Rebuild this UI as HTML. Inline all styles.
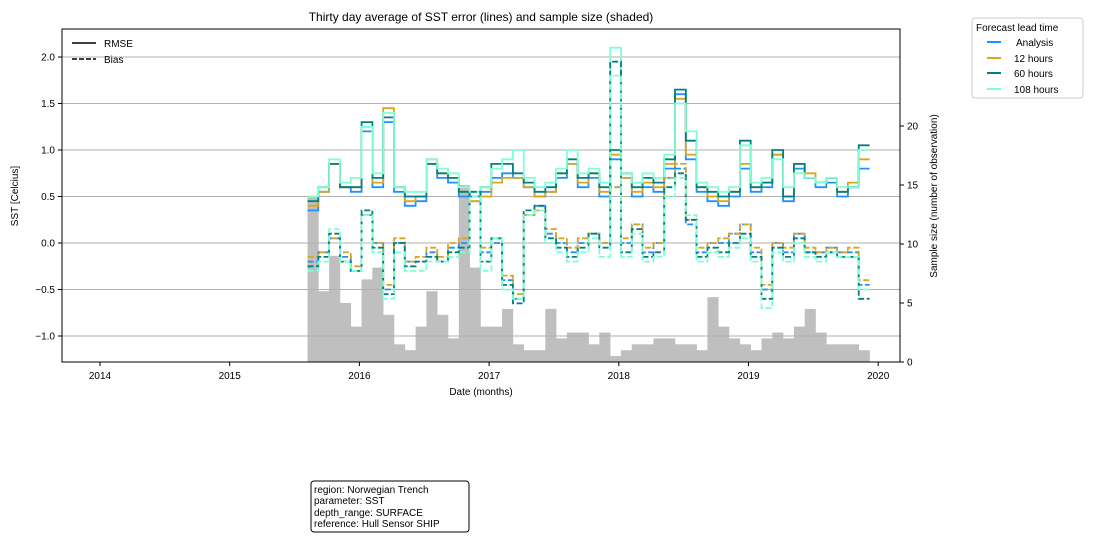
<!DOCTYPE html>
<html><head><meta charset="utf-8">
<style>
body{margin:0;background:#fff;font-family:"Liberation Sans",sans-serif;}
svg text{font-family:"Liberation Sans",sans-serif;fill:#000;}
</style></head>
<body>
<svg id="chart" width="1094" height="540" viewBox="0 0 1094 540" xmlns="http://www.w3.org/2000/svg">
<text x="481" y="21" font-size="12" text-anchor="middle">Thirty day average of SST error (lines) and sample size (shaded)</text>
<g id="bars"></g>
<g id="grid"></g>
<g id="lines"></g>
<rect x="62" y="29" width="838" height="333" fill="none" stroke="#000" stroke-width="1"/>
<g id="xaxis"></g>
<g id="yaxis"></g>
<g id="y2axis"></g>
<text x="481" y="395" font-size="10" text-anchor="middle">Date (months)</text>
<text transform="translate(18,196) rotate(-90)" font-size="10" text-anchor="middle">SST [Celcius]</text>
<text transform="translate(937,196) rotate(-90)" font-size="10" text-anchor="middle">Sample size (number of observation)</text>
<g>
<line x1="72" y1="43" x2="96" y2="43" stroke="#000" stroke-width="1.5"/>
<text x="104" y="47" font-size="10">RMSE</text>
<line x1="72" y1="59" x2="96" y2="59" stroke="#000" stroke-width="1.5" stroke-dasharray="5,2"/>
<text x="104" y="63" font-size="10">Bias</text>
</g>
<g>
<rect x="972" y="18" width="111" height="80" rx="3" fill="#fff" stroke="#ccc"/>
<text x="976" y="31" font-size="10">Forecast lead time</text>
<line x1="987" y1="42" x2="1001" y2="42" stroke="#1e90ff" stroke-width="2"/><text x="1016" y="46" font-size="10">Analysis</text>
<line x1="987" y1="58" x2="1001" y2="58" stroke="#daa520" stroke-width="2"/><text x="1014" y="62" font-size="10">12 hours</text>
<line x1="987" y1="73" x2="1001" y2="73" stroke="#008080" stroke-width="2"/><text x="1014" y="77" font-size="10">60 hours</text>
<line x1="987" y1="89" x2="1001" y2="89" stroke="#7fffd4" stroke-width="2"/><text x="1014" y="93" font-size="10">108 hours</text>
</g>
<g>
<rect x="311" y="481" width="158" height="51" rx="3" fill="#fff" stroke="#000"/>
<text x="314" y="493" font-size="10">region: Norwegian Trench</text>
<text x="314" y="504" font-size="10">parameter: SST</text>
<text x="314" y="516" font-size="10">depth_range: SURFACE</text>
<text x="314" y="527" font-size="10">reference: Hull Sensor SHIP</text>
</g>
</svg>
<script>
const startYear = 2015.6;
const stepYear = 1/12;
const xTicks = [2014,2015,2016,2017,2018,2019,2020];
const yTicks = [-1.0,-0.5,0.0,0.5,1.0,1.5,2.0];
const y2Ticks = [0,5,10,15,20];
const sampleSize = [14,6,9,5,3,7,8,4,1.5,1,3,6,4,2,15,8,3,3,4.5,1.5,1,1,4.5,2,2.5,2.5,1.5,2.5,0.5,1,1.5,1.5,2,2,1.5,1.5,1,5.5,3,2,1.5,1,2,2.5,2,3,4.5,2.5,1.5,1.5,1.5,1];
const rmseAnalysis = [0.35,0.55,0.85,0.6,0.55,1.2,0.6,1.3,0.55,0.4,0.45,0.85,0.7,0.65,0.5,0.5,0.55,0.7,0.75,0.7,0.6,0.5,0.55,0.7,0.85,0.6,0.7,0.5,0.9,0.7,0.5,0.6,0.55,0.8,1.6,0.9,0.55,0.45,0.4,0.5,0.8,0.55,0.6,0.95,0.45,0.8,0.7,0.6,0.65,0.5,0.6,0.8];
const rmse12h = [0.4,0.55,0.85,0.6,0.6,1.25,0.65,1.45,0.6,0.45,0.5,0.9,0.75,0.7,0.55,0.45,0.5,0.65,0.7,0.7,0.6,0.5,0.55,0.75,0.85,0.65,0.75,0.55,0.95,0.7,0.55,0.65,0.6,0.85,1.55,0.95,0.6,0.5,0.45,0.55,0.85,0.6,0.65,0.95,0.5,0.85,0.75,0.65,0.7,0.55,0.65,0.9];
const rmse60h = [0.45,0.6,0.85,0.6,0.6,1.3,0.7,1.35,0.6,0.5,0.5,0.85,0.75,0.7,0.55,0.5,0.6,0.85,0.85,0.75,0.65,0.55,0.6,0.75,0.9,0.7,0.75,0.6,1.0,0.75,0.6,0.7,0.65,0.9,1.65,1.1,0.6,0.55,0.5,0.55,1.1,0.6,0.65,1.0,0.5,0.85,0.7,0.65,0.7,0.55,0.6,1.05];
const rmse108h = [0.5,0.6,0.9,0.65,0.7,1.25,0.75,1.4,0.6,0.55,0.55,0.9,0.8,0.75,0.6,0.55,0.6,0.8,0.9,1.0,0.7,0.6,0.65,0.8,1.0,0.75,0.8,0.65,2.1,0.75,0.65,0.75,0.7,0.95,1.5,1.2,0.65,0.6,0.55,0.6,1.05,0.65,0.7,0.9,0.6,0.75,0.7,0.65,0.7,0.6,0.6,1.0];
const biasAnalysis = [-0.2,-0.1,0.05,-0.15,-0.3,0.3,0.0,-0.5,0.0,-0.2,-0.2,-0.1,-0.2,-0.05,0.0,0.5,-0.1,0.0,-0.4,-0.6,0.3,0.4,0.1,0.0,-0.1,0.0,0.1,0.0,0.6,0.0,0.2,-0.1,0.0,0.7,0.8,0.2,-0.1,0.0,0.0,0.1,0.2,-0.1,-0.5,0.0,-0.1,0.1,-0.1,-0.1,-0.05,-0.1,-0.1,-0.45];
const bias12h = [-0.15,-0.1,0.05,-0.1,-0.25,0.3,0.0,-0.45,0.05,-0.2,-0.15,-0.05,-0.15,0.0,0.05,0.45,-0.05,0.05,-0.35,-0.55,0.3,0.35,0.15,0.05,-0.05,0.05,0.1,0.0,0.6,0.05,0.2,-0.05,0.0,0.7,0.85,0.25,-0.05,0.0,0.05,0.1,0.2,-0.05,-0.45,0.0,-0.05,0.1,-0.05,-0.1,-0.05,-0.1,-0.05,-0.4];
const bias60h = [-0.25,-0.15,0.1,-0.2,-0.3,0.35,-0.05,-0.55,0.0,-0.25,-0.2,-0.15,-0.2,-0.1,-0.05,0.55,-0.2,0.05,-0.45,-0.65,0.35,0.4,0.05,-0.05,-0.15,-0.05,0.1,-0.05,1.95,-0.1,0.15,-0.15,-0.1,0.6,0.75,0.25,-0.15,-0.05,-0.1,0.0,0.1,-0.15,-0.6,-0.05,-0.15,0.05,-0.1,-0.15,-0.1,-0.15,-0.15,-0.6];
const bias108h = [-0.3,-0.2,0.15,-0.2,-0.3,0.3,-0.1,-0.6,-0.1,-0.3,-0.3,-0.2,-0.2,-0.15,-0.1,0.5,-0.3,0.05,-0.5,-0.6,0.3,0.35,0.0,-0.1,-0.2,-0.1,0.05,-0.15,1.8,-0.15,0.1,-0.2,-0.15,0.5,0.7,0.3,-0.2,-0.1,-0.15,-0.05,0.05,-0.2,-0.7,-0.1,-0.2,0.0,-0.15,-0.2,-0.1,-0.15,-0.15,-0.5];

const NS='http://www.w3.org/2000/svg';
const L=62,R=900,T=29,B=362;
function xScale(yr){return 100+(yr-2014)*129.7;}
function yScale(v){return 243-v*93;}
function y2Scale(n){return 362-n*11.8;}
function mk(tag,attrs,parent){const e=document.createElementNS(NS,tag);for(const k in attrs)e.setAttribute(k,attrs[k]);parent.appendChild(e);return e;}
const gBars=document.getElementById('bars'),gGrid=document.getElementById('grid'),gLines=document.getElementById('lines');
sampleSize.forEach((n,i)=>{
  const x0=xScale(startYear+i*stepYear),x1=xScale(startYear+(i+1)*stepYear);
  const r=mk('rect',{x:x0,y:y2Scale(n),width:x1-x0+0.3,height:B-y2Scale(n),fill:'#bfbfbf'},gBars);
  
  
});
yTicks.forEach(v=>{
  const y=yScale(v);
  const g=mk('line',{x1:L,x2:R,y1:y,y2:y,stroke:'#b0b0b0','stroke-width':1},gGrid);
  
  
  const ya=document.getElementById('yaxis');
  mk('line',{x1:L-4,x2:L,y1:y,y2:y,stroke:'#000'},ya);
  const t=mk('text',{x:L-7,y:y+3.5,'font-size':10,'text-anchor':'end'},ya);
  t.textContent=v.toFixed(1).replace('-','\u2212');
  
  
});
y2Ticks.forEach(n=>{
  const y=y2Scale(n),ya=document.getElementById('y2axis');
  mk('line',{x1:R,x2:R+4,y1:y,y2:y,stroke:'#000'},ya);
  const t=mk('text',{x:R+7,y:y+3.5,'font-size':10},ya);
  t.textContent=n;
  
  
});
xTicks.forEach(yr=>{
  const x=xScale(yr),xa=document.getElementById('xaxis');
  mk('line',{x1:x,x2:x,y1:B,y2:B+4,stroke:'#000'},xa);
  const t=mk('text',{x:x,y:B+17,'font-size':10,'text-anchor':'middle'},xa);
  t.textContent=yr;
  
  
});
function stepPath(vals){
  let d='';
  vals.forEach((v,i)=>{
    const x0=xScale(startYear+i*stepYear),x1=xScale(startYear+(i+1)*stepYear),y=yScale(v);
    d+=(i===0?'M':'L')+x0.toFixed(1)+','+y.toFixed(1)+' L'+x1.toFixed(1)+','+y.toFixed(1)+' ';
  });
  return d;
}
const series=[
 [rmseAnalysis,'#1e90ff',false,'rmse-analysis'],[rmse12h,'#daa520',false,'rmse-12h'],[rmse60h,'#008080',false,'rmse-60h'],[rmse108h,'#7fffd4',false,'rmse-108h'],
 [biasAnalysis,'#1e90ff',true,'bias-analysis'],[bias12h,'#daa520',true,'bias-12h'],[bias60h,'#008080',true,'bias-60h'],[bias108h,'#7fffd4',true,'bias-108h']];
series.forEach(s=>{
  const p=mk('path',{d:stepPath(s[0]),fill:'none',stroke:s[1],'stroke-width':1.8},gLines);
  if(s[2])p.setAttribute('stroke-dasharray','6,2.5');
  
  
});
</script>
</body></html>
